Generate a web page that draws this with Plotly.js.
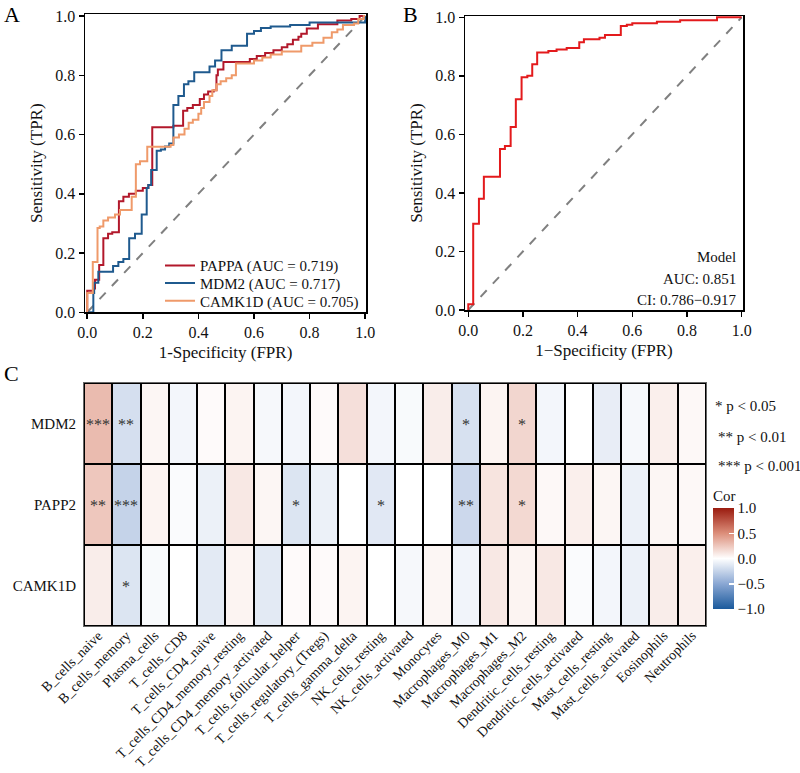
<!DOCTYPE html>
<html>
<head>
<meta charset="utf-8">
<script src="https://cdn.plot.ly/plotly-3.0.1.min.js"></script>
<style>html,body{margin:0;padding:0;background:#fff;}#chart{width:800px;height:773px;}</style>
</head>
<body>
<div id="chart"></div>
<script>
// ---------- Panel A: ROC curves ----------
const fprPAPPA = [0, 0, 0.022, 0.028, 0.043, 0.058, 0.075, 0.09, 0.114, 0.13, 0.15, 0.175, 0.2, 0.22, 0.234, 0.31, 0.345, 0.36, 0.38, 0.405, 0.42, 0.435, 0.455, 0.465, 0.47, 0.49, 0.585, 0.61, 0.64, 0.67, 0.70, 0.72, 0.74, 0.76, 0.77, 0.79, 0.83, 0.90, 0.95, 0.98, 1.0];
const tprPAPPA = [0, 0.073, 0.08, 0.11, 0.16, 0.25, 0.265, 0.27, 0.375, 0.39, 0.40, 0.41, 0.42, 0.43, 0.625, 0.63, 0.68, 0.69, 0.70, 0.72, 0.735, 0.745, 0.75, 0.80, 0.82, 0.845, 0.855, 0.865, 0.875, 0.885, 0.895, 0.905, 0.92, 0.93, 0.94, 0.958, 0.972, 0.985, 0.99, 1.0, 1.0];

const fprMDM2 = [0, 0.022, 0.025, 0.04, 0.093, 0.112, 0.13, 0.151, 0.172, 0.196, 0.214, 0.22, 0.23, 0.25, 0.265, 0.28, 0.295, 0.31, 0.328, 0.348, 0.364, 0.385, 0.44, 0.46, 0.483, 0.52, 0.575, 0.6, 0.625, 0.66, 0.73, 0.8, 1.0, 1.0];
const tprMDM2 = [0, 0.065, 0.10, 0.137, 0.156, 0.17, 0.18, 0.25, 0.265, 0.33, 0.42, 0.43, 0.48, 0.545, 0.55, 0.56, 0.57, 0.70, 0.73, 0.77, 0.78, 0.81, 0.83, 0.85, 0.885, 0.90, 0.94, 0.95, 0.96, 0.965, 0.97, 0.978, 0.978, 1.0];

const fprCAMK1D = [0, 0, 0.02, 0.037, 0.045, 0.058, 0.075, 0.1, 0.118, 0.16, 0.175, 0.19, 0.216, 0.30, 0.31, 0.33, 0.35, 0.365, 0.38, 0.40, 0.41, 0.42, 0.44, 0.45, 0.465, 0.48, 0.50, 0.52, 0.535, 0.60, 0.63, 0.66, 0.70, 0.77, 0.81, 0.85, 0.88, 0.90, 0.92, 0.96, 0.975, 0.995, 1.0];
const tprCAMK1D = [0, 0.065, 0.17, 0.285, 0.29, 0.31, 0.32, 0.33, 0.345, 0.39, 0.50, 0.51, 0.559, 0.565, 0.59, 0.60, 0.62, 0.64, 0.65, 0.67, 0.69, 0.71, 0.73, 0.75, 0.77, 0.78, 0.79, 0.80, 0.84, 0.85, 0.86, 0.87, 0.88, 0.90, 0.91, 0.927, 0.945, 0.955, 0.97, 0.975, 0.99, 1.0, 1.0];

const seriesNames = ["PAPPA (AUC = 0.719)", "MDM2 (AUC = 0.717)", "CAMK1D (AUC = 0.705)"];
const seriesColors = ["#b2182b", "#1f5a8e", "#ef9a6a"];

// ---------- Panel B: Model ROC ----------
const fprModel = [0, 0, 0.018, 0.039, 0.057, 0.116, 0.134, 0.155, 0.174, 0.195, 0.216, 0.234, 0.252, 0.293, 0.323, 0.36, 0.406, 0.423, 0.48, 0.5, 0.558, 0.58, 0.6, 0.69, 0.775, 0.91, 1.0];
const tprModel = [0, 0.02, 0.295, 0.38, 0.455, 0.55, 0.56, 0.625, 0.72, 0.795, 0.80, 0.84, 0.88, 0.885, 0.89, 0.895, 0.915, 0.925, 0.93, 0.94, 0.97, 0.975, 0.98, 0.985, 0.99, 1.0, 1.0];
const diag = [0, 1];

// ---------- Panel C: correlation heatmap ----------
const cellTypes = ["B_cells_naive", "B_cells_memory", "Plasma_cells", "T_cells_CD8", "T_cells_CD4_naive",
  "T_cells_CD4_memory_resting", "T_cells_CD4_memory_activated", "T_cells_follicular_helper",
  "T_cells_regulatory_(Tregs)", "T_cells_gamma_delta", "NK_cells_resting", "NK_cells_activated",
  "Monocytes", "Macrophages_M0", "Macrophages_M1", "Macrophages_M2", "Dendritic_cells_resting",
  "Dendritic_cells_activated", "Mast_cells_resting", "Mast_cells_activated", "Eosinophils", "Neutrophils"];
const genes = ["MDM2", "PAPP2", "CAMK1D"];
const corMDM2   = [0.30, -0.18, 0.04, -0.05, 0.02, 0.05, -0.04, -0.05, 0.02, 0.14, -0.05, -0.03, 0.08, -0.17, 0.05, 0.18, -0.05, 0.00, -0.10, -0.04, 0.07, 0.03];
const corPAPP2  = [0.25, -0.25, 0.05, -0.02, -0.08, 0.10, 0.04, -0.15, -0.08, 0.00, -0.13, 0.00, 0.00, -0.22, 0.12, 0.17, 0.03, 0.07, 0.04, -0.08, 0.04, 0.03];
const corCAMK1D = [0.08, -0.15, -0.03, 0.00, -0.12, 0.05, -0.12, 0.02, 0.02, 0.05, 0.00, -0.04, 0.04, -0.06, 0.10, 0.05, 0.10, -0.02, -0.05, -0.08, 0.08, 0.07];
const sigMDM2   = ["***", "**", "", "", "", "", "", "", "", "", "", "", "", "*", "", "*", "", "", "", "", "", ""];
const sigPAPP2  = ["**", "***", "", "", "", "", "", "*", "", "", "*", "", "", "**", "", "*", "", "", "", "", "", ""];
const sigCAMK1D = ["", "*", "", "", "", "", "", "", "", "", "", "", "", "", "", "", "", "", "", "", "", ""];
const corTickVals = [-1, -0.5, 0, 0.5, 1];
const corTickText = ["\u22121.0", "\u22120.5", "0.0", "0.5", "1.0"];

const W = 800, H = 773;
const px = v => v / W;
const py = v => 1 - v / H;
const serif = "Liberation Serif, Times New Roman, serif";

const traces = [];
const rocX = [fprPAPPA, fprMDM2, fprCAMK1D];
const rocY = [tprPAPPA, tprMDM2, tprCAMK1D];
const legendIds = ["legend", "legend2", "legend3"];
traces.push({x: diag, y: diag, xaxis: "x", yaxis: "y", mode: "lines", line: {color: "#808080", width: 2, dash: "dash"}, showlegend: false, hoverinfo: "skip"});
for (let i = 0; i < 3; i++) {
  traces.push({x: rocX[i], y: rocY[i], xaxis: "x", yaxis: "y", mode: "lines", name: seriesNames[i],
    legend: legendIds[i], showlegend: true,
    line: {color: seriesColors[i], width: 2, shape: "hv"}});
}
traces.push({x: diag, y: diag, xaxis: "x2", yaxis: "y2", mode: "lines", line: {color: "#808080", width: 2, dash: "dash"}, showlegend: false, hoverinfo: "skip"});
traces.push({x: fprModel, y: tprModel, xaxis: "x2", yaxis: "y2", mode: "lines", showlegend: false,
  line: {color: "#e31a1c", width: 2, shape: "hv"}});

traces.push({
  type: "heatmap", xaxis: "x3", yaxis: "y3",
  x: cellTypes, y: genes,
  z: [corMDM2, corPAPP2, corCAMK1D],
  text: [sigMDM2, sigPAPP2, sigCAMK1D],
  texttemplate: "%{text}",
  textfont: {family: serif, size: 16, color: "#333333"},
  zmin: -1, zmax: 1, xgap: 2, ygap: 2,
  colorscale: [[0, "#1b5a9c"], [0.25, "#8aa7d3"], [0.5, "#ffffff"], [0.75, "#dc8e7a"], [1, "#9a1b0f"]],
  showlegend: false,
  colorbar: {
    x: px(713), xanchor: "left", y: py(609), yanchor: "bottom",
    len: 122, lenmode: "pixels", thickness: 21, thicknessmode: "pixels", ypad: 0, xpad: 0,
    outlinewidth: 0, ticks: "inside", ticklen: 5, tickcolor: "#ffffff", tickwidth: 1.5,
    tickvals: corTickVals, ticktext: corTickText,
    tickfont: {family: serif, size: 15, color: "#111"},
    title: {text: "Cor", side: "top", font: {family: serif, size: 15, color: "#111"}}
  }
});

const rocAxis = (dom, range, anchor) => ({
  domain: dom, range: range, anchor: anchor,
  showline: true, mirror: true, linecolor: "#000", linewidth: 1.5,
  ticks: "outside", ticklen: 5, tickwidth: 1.5, tickcolor: "#000",
  tickvals: [0, 0.2, 0.4, 0.6, 0.8, 1.0], tickformat: ".1f",
  showgrid: false, zeroline: false,
  tickfont: {family: serif, size: 16, color: "#111"}
});

const legendBase = (yc) => ({x: px(160), y: py(yc), xanchor: "left", yanchor: "middle",
  bgcolor: "rgba(0,0,0,0)", borderwidth: 0, itemwidth: 30,
  font: {family: serif, size: 15, color: "#111"}});

const layout = {
  width: W, height: H,
  margin: {l: 0, r: 0, t: 0, b: 0},
  paper_bgcolor: "#fff", plot_bgcolor: "rgba(0,0,0,0)",
  font: {family: serif, color: "#111"},
  xaxis: Object.assign(rocAxis([px(85), px(366)], [-0.008, 1.003], "y"),
    {title: {text: "1-Specificity (FPR)", font: {family: serif, size: 17}, standoff: 6}}),
  yaxis: Object.assign(rocAxis([py(312.3), py(14)], [0, 1.007], "x"),
    {title: {text: "Sensitivity (TPR)", font: {family: serif, size: 17}, standoff: 8}}),
  xaxis2: Object.assign(rocAxis([px(465), px(743)], [-0.012, 1.005], "y2"),
    {title: {text: "1\u2212Specificity (FPR)", font: {family: serif, size: 17}, standoff: 6}}),
  yaxis2: Object.assign(rocAxis([py(310), py(16)], [0, 1.0045], "x2"),
    {title: {text: "Sensitivity (TPR)", font: {family: serif, size: 17}, standoff: 8}}),
  xaxis3: {domain: [px(84), px(706)], anchor: "y3", type: "category", tickangle: -45,
    showline: true, mirror: true, linecolor: "#666", linewidth: 1,
    ticks: "", showgrid: false, zeroline: false, ticklabelstandoff: -5,
    tickfont: {family: serif, size: 14, color: "#111"}},
  yaxis3: {domain: [py(626), py(383)], anchor: "x3", type: "category", autorange: "reversed",
    showline: true, mirror: true, linecolor: "#666", linewidth: 1,
    ticks: "", showgrid: false, zeroline: false, ticklabelstandoff: 4,
    tickfont: {family: serif, size: 15, color: "#111"}},
  showlegend: true,
  legend: legendBase(265.7),
  legend2: legendBase(283.3),
  legend3: legendBase(301),
  shapes: [
    {type: "rect", xref: "x3 domain", yref: "y3 domain", x0: 0, x1: 1, y0: 0, y1: 1,
     fillcolor: "#000", line: {width: 0}, layer: "below"}
  ],
  annotations: [
    {text: "A", x: px(2), y: py(14), xref: "paper", yref: "paper", xanchor: "left", yanchor: "middle", showarrow: false, font: {family: serif, size: 22, color: "#000"}},
    {text: "B", x: px(401), y: py(14), xref: "paper", yref: "paper", xanchor: "left", yanchor: "middle", showarrow: false, font: {family: serif, size: 22, color: "#000"}},
    {text: "C", x: px(2), y: py(373), xref: "paper", yref: "paper", xanchor: "left", yanchor: "middle", showarrow: false, font: {family: serif, size: 22, color: "#000"}},
    {text: "Model", x: px(738), y: py(257), xref: "paper", yref: "paper", xanchor: "right", yanchor: "middle", showarrow: false, font: {family: serif, size: 15, color: "#111"}},
    {text: "AUC: 0.851", x: px(738), y: py(279), xref: "paper", yref: "paper", xanchor: "right", yanchor: "middle", showarrow: false, font: {family: serif, size: 15, color: "#111"}},
    {text: "CI: 0.786\u22120.917", x: px(738), y: py(300), xref: "paper", yref: "paper", xanchor: "right", yanchor: "middle", showarrow: false, font: {family: serif, size: 15, color: "#111"}},
    {text: "* p < 0.05", x: px(713), y: py(406), xref: "paper", yref: "paper", xanchor: "left", yanchor: "middle", showarrow: false, font: {family: serif, size: 15, color: "#111"}},
    {text: "** p < 0.01", x: px(716), y: py(437), xref: "paper", yref: "paper", xanchor: "left", yanchor: "middle", showarrow: false, font: {family: serif, size: 15, color: "#111"}},
    {text: "*** p < 0.001", x: px(716), y: py(466), xref: "paper", yref: "paper", xanchor: "left", yanchor: "middle", showarrow: false, font: {family: serif, size: 15, color: "#111"}}
  ]
};

Plotly.newPlot("chart", traces, layout, {displayModeBar: false, staticPlot: true});
</script>
</body>
</html>
